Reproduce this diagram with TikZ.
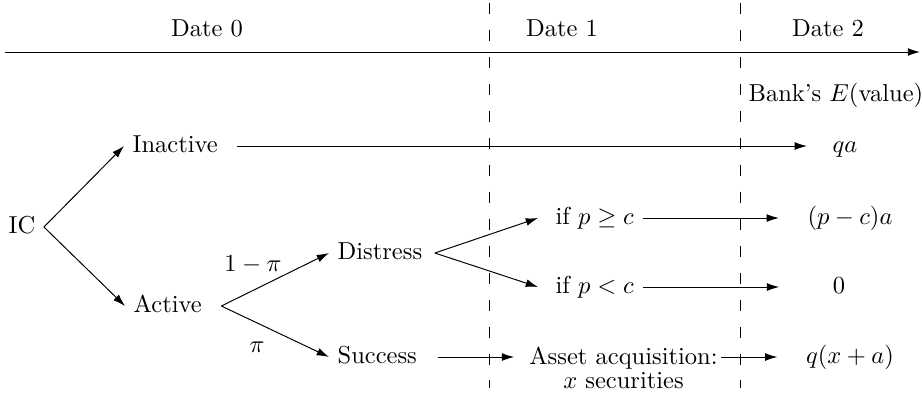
\documentclass[tikz,border=0pt]{standalone}
\usetikzlibrary{arrows.meta,calc}
\begin{document}
\begin{tikzpicture}[x=0.408pt,y=-0.408pt,
  arr/.style={-{Latex[length=5pt,width=3.2pt]}},
  lbl/.style={text height=7.5pt,text depth=2.5pt,inner sep=3.33pt},
  sepline/.style={dash pattern=on 4.5pt off 6.5pt}]
\useasboundingbox (0,0) rectangle (922,399);
% timeline
\coordinate (t0) at (5,52);
\coordinate (t1) at (920,52);
\draw[arr] (t0) -- (t1);
% date separators
\coordinate (d1a) at (489,3);
\coordinate (d1b) at (489,388);
\coordinate (d2a) at (740,3);
\coordinate (d2b) at (740,388);
\draw[sepline] (d1a) -- (d1b);
\draw[sepline] (d2a) -- (d2b);
% headers
\node[lbl] (date0) at (207,30) {Date 0};
\node[lbl] (date1) at (562,30) {Date 1};
\node[lbl] (date2) at (828,30) {Date 2};
\node[lbl,anchor=west] (bank) at (740,95) {Bank's $E$(value)};
% tree nodes
\node[lbl] (IC) at (22,227) {IC};
\node[lbl,anchor=west] (Inactive) at (124,146) {Inactive};
\node[lbl,anchor=west] (Active) at (125,306) {Active};
\node[lbl,anchor=west] (Distress) at (329,253) {Distress};
\node[lbl,anchor=west] (Success) at (329,357) {Success};
\node[lbl,anchor=west] (ifge) at (547,218) {if $p\geq c$};
\node[lbl,anchor=west] (iflt) at (547,287) {if $p<c$};
\node[anchor=north,align=center,inner sep=3.33pt] (Asset) at (623.5,338) {Asset acquisition:\\[-2pt] $x$ securities};
% payoffs
\node[lbl] (qa) at (845,146) {$qa$};
\node[lbl] (pca) at (850,218) {$(p-c)a$};
\node[lbl] (zero) at (839,287) {$0$};
\node[lbl] (qxa) at (850,357) {$q(x+a)$};
% probability labels
\node[lbl] (lpi) at (253,265) {$1-\pi$};
\node[lbl] (pi) at (257,346) {$\pi$};
% connectors
\draw[arr] (IC.east) -- (Inactive.west);
\draw[arr] (IC.east) -- (Active.west);
\draw[arr] ($(Inactive.east)+(11,0)$) -- ($(qa.west)+(-17,0)$);
\draw[arr] ($(Active.east)+(11,0)$) -- (Distress.west);
\draw[arr] ($(Active.east)+(11,0)$) -- (Success.west);
\draw[arr] ($(Distress.east)+(4,0)$) -- ($(ifge.west)+(-9,0)$);
\draw[arr] ($(Distress.east)+(4,0)$) -- ($(iflt.west)+(-9,0)$);
\draw[arr] ($(ifge.east)+(1,0)$) -- ($(pca.west)+(-20,0)$);
\draw[arr] ($(iflt.east)+(1,0)$) -- ($(zero.west)+(-45,0)$);
\draw[arr] ($(Success.east)+(12,0)$) -- ($(Success.east -| Asset.west)+(-6.5,0)$);
\draw[arr] ($(Success.east -| Asset.east)+(-5.5,0)$) -- ($(qxa.west)+(-20,0)$);
\end{tikzpicture}
\end{document}
